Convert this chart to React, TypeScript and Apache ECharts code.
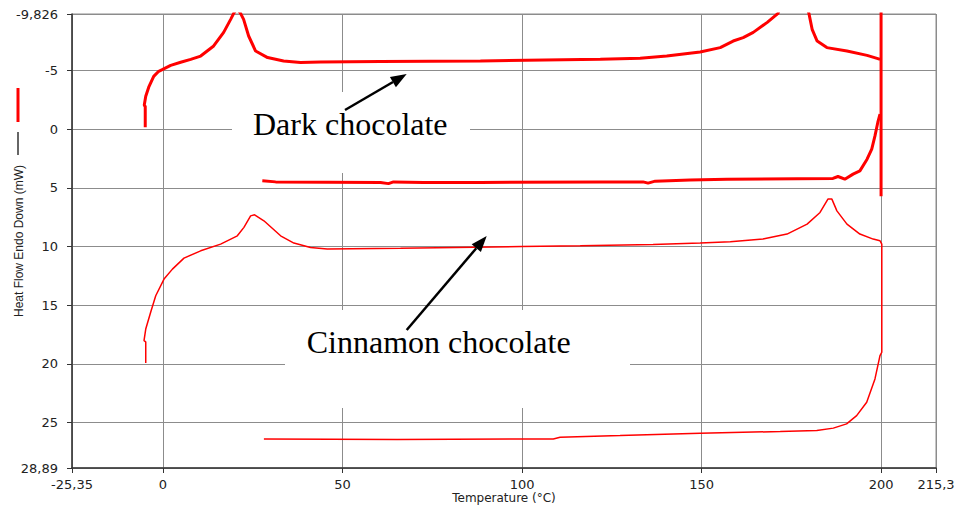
import React, { useEffect, useRef } from "react";
import * as echarts from "echarts";

// Axis ranges and tick positions (values as printed on the chart)
const xMin = -25.35;
const xMax = 215.3;
const yMin = -9.826;
const yMax = 28.89;
const xTicks = [-25.35, 0, 50, 100, 150, 200, 215.3];
const yTicks = [-9.826, -5, 0, 5, 10, 15, 20, 25, 28.89];

// Dark chocolate: heating trace (upper), edge at 200 °C, and lower trace
const darkHeating: number[][] = [
  [-4.95, -0.17], [-4.95, -1.96], [-5.23, -2.04], [-4.81, -2.81], [-3.98, -3.58],
  [-2.59, -4.51], [-1.2, -4.94], [-0.08, -5.11], [2.14, -5.45], [4.92, -5.71],
  [7.71, -5.96], [10.49, -6.24], [14.11, -7.1], [16.89, -8.26], [18.84, -9.37],
  [19.68, -9.88], [20.6, -10.3], [21.6, -9.88], [22.45, -9.37], [23.85, -7.95],
  [25.79, -6.67], [29.13, -6.11], [33.58, -5.82], [38.31, -5.68], [43.88, -5.73],
  [60.57, -5.77], [88.4, -5.82], [121.8, -5.96], [132.9, -6.05], [140.3, -6.24],
  [149.6, -6.58], [155.2, -6.96], [158.8, -7.52], [161.6, -7.81], [164.4, -8.26],
  [168.3, -9.11], [171.3, -9.88], [172, -10.5], [179.3, -10.5], [179.9, -9.88],
  [180.8, -8.52], [182.2, -7.52], [184.9, -6.96], [190.5, -6.67], [196.1, -6.3],
  [199.1, -6.02], [199.7, -5.96],
];
const darkEdge: number[][] = [[200, -11], [200, 5.71]];
const darkLower: number[][] = [
  [27.66, 4.4], [31.36, 4.49], [60.57, 4.54], [62.8, 4.64], [64.19, 4.49],
  [72.5, 4.54], [88.4, 4.54], [121.8, 4.49], [133.7, 4.49], [135.1, 4.6],
  [137.1, 4.43], [146.8, 4.34], [157.1, 4.26], [186.6, 4.2], [188, 4.03],
  [189.9, 4.26], [192.2, 3.83], [194.1, 3.55], [196.1, 2.56], [197.4, 1.7],
  [198.3, 0.57], [199.1, -0.6], [199.7, -1.28],
];

// Cinnamon chocolate: upper trace, edge at 200 °C, lower trace
const cinnamon: number[][] = [
  [-4.81, 19.93], [-4.81, 18.14], [-5.29, 18.03], [-4.81, 17.04], [-3.42, 15.59],
  [-2.03, 14.2], [0.28, 12.78], [2.62, 11.93], [5.84, 10.99], [10.49, 10.37],
  [16.05, 9.8], [20.7, 9.09], [22.54, 8.37], [24.4, 7.39], [25.51, 7.3],
  [28.1, 7.81], [32.75, 9.09], [36.45, 9.71], [41.08, 10.08], [45.74, 10.22],
  [66.14, 10.16], [99.8, 10.0], [116.2, 9.94], [136.5, 9.82], [149.6, 9.71],
  [158, 9.6], [167.1, 9.37], [173.8, 8.94], [179.4, 8.09], [183, 7.1],
  [185.2, 5.96], [186.3, 5.96], [187.7, 6.96], [190.5, 8.09], [194.1, 8.94],
  [197.8, 9.37], [199.7, 9.51], [200.2, 9.8], [200.2, 19.02], [199.7, 19.31],
  [198.3, 21.29], [196, 23.28], [193.2, 24.42], [190.4, 25.13], [186.7, 25.49],
  [182.1, 25.7], [171.9, 25.78], [149.6, 25.92], [127.3, 26.12], [110.6, 26.26],
  [108.7, 26.41], [65.2, 26.46], [28.1, 26.41],
];

const labelFmt = (v: number) => String(v).replace(".", ",");

const GRID_COLOR = "#8c8c8c";
const AXIS_COLOR = "#333333";
const TEXT_COLOR = "#222222";
const LABEL_FONT = "DejaVu Sans";

export default function App() {
  const ref = useRef<HTMLDivElement>(null);
  useEffect(() => {
    if (!ref.current) return;
    const chart = echarts.init(ref.current, undefined, { renderer: "svg" });
    const lineSeries = (name: string, data: number[][], width: number) => ({
      type: "line",
      name,
      data,
      symbol: "none",
      smooth: false,
      clip: true,
      z: 3,
      lineStyle: { color: "#ff0000", width },
    });
    chart.setOption({
      animation: false,
      backgroundColor: "#ffffff",
      grid: {
        left: 72,
        right: 20,
        top: 14,
        bottom: 43,
        show: true,
        borderColor: GRID_COLOR,
        borderWidth: 1,
        containLabel: false,
        outerBoundsMode: "none",
      },
      xAxis: {
        type: "value",
        min: xMin,
        max: xMax,
        name: "Temperature (°C)",
        nameLocation: "middle",
        nameGap: 24,
        nameMoveOverlap: false,
        nameTextStyle: { fontFamily: LABEL_FONT, fontSize: 12, color: TEXT_COLOR },
        axisLine: { show: true, onZero: false, lineStyle: { color: AXIS_COLOR, width: 1.5 } },
        axisTick: { show: true, length: 5, customValues: xTicks, lineStyle: { color: AXIS_COLOR } },
        axisLabel: {
          customValues: xTicks,
          formatter: labelFmt,
          margin: 10,
          fontFamily: LABEL_FONT,
          fontSize: 13,
          color: TEXT_COLOR,
        },
        splitLine: { show: true, lineStyle: { color: GRID_COLOR, width: 1 } },
      },
      yAxis: {
        type: "value",
        inverse: true,
        min: yMin,
        max: yMax,
        name: "Heat Flow Endo Down (mW)",
        nameLocation: "middle",
        nameRotate: 90,
        nameGap: 47,
        nameMoveOverlap: false,
        nameTextStyle: { fontFamily: "Liberation Sans", fontSize: 12, color: TEXT_COLOR },
        axisLine: { show: true, onZero: false, lineStyle: { color: AXIS_COLOR, width: 1.5 } },
        axisTick: { show: true, length: 5, customValues: yTicks, lineStyle: { color: AXIS_COLOR } },
        axisLabel: {
          customValues: yTicks,
          formatter: labelFmt,
          margin: 14,
          fontFamily: LABEL_FONT,
          fontSize: 13,
          color: TEXT_COLOR,
        },
        splitLine: { show: true, lineStyle: { color: GRID_COLOR, width: 1 } },
      },
      series: [
        lineSeries("Dark chocolate", darkHeating, 3),
        lineSeries("Dark chocolate", darkEdge, 3),
        lineSeries("Dark chocolate", darkLower, 3),
        lineSeries("Cinnamon chocolate", cinnamon, 1.5),
      ],
      graphic: [
        // legend-like marks next to the y-axis title
        { type: "line", z: 100, shape: { x1: 18, y1: 88, x2: 18, y2: 122 }, style: { stroke: "#ff0000", lineWidth: 3 } },
        { type: "line", z: 100, shape: { x1: 18, y1: 132, x2: 18, y2: 155 }, style: { stroke: "#333333", lineWidth: 1.5 } },
        // annotation boxes
        { type: "rect", z: 100, shape: { x: 232, y: 92, width: 238, height: 81 }, style: { fill: "#ffffff" } },
        { type: "rect", z: 100, shape: { x: 285, y: 310, width: 345, height: 98 }, style: { fill: "#ffffff" } },
        {
          type: "text", z: 101, x: 253, y: 124,
          style: { text: "Dark chocolate", font: '32px "Liberation Serif"', fill: "#000000", verticalAlign: "middle", align: "left" },
        },
        {
          type: "text", z: 101, x: 306.7, y: 342,
          style: { text: "Cinnamon chocolate", font: '32px "Liberation Serif"', fill: "#000000", verticalAlign: "middle", align: "left" },
        },
        // arrows
        { type: "line", z: 101, shape: { x1: 345, y1: 110, x2: 393, y2: 82 }, style: { stroke: "#000000", lineWidth: 2.5 } },
        { type: "polygon", z: 101, shape: { points: [[406.7, 74], [395.9, 87.3], [389.9, 76.9]] }, style: { fill: "#000000" } },
        { type: "line", z: 101, shape: { x1: 406.7, y1: 330, x2: 476.3, y2: 248.2 }, style: { stroke: "#000000", lineWidth: 2.5 } },
        { type: "polygon", z: 101, shape: { points: [[486.7, 236], [480.9, 252.1], [471.7, 244.3]] }, style: { fill: "#000000" } },
      ],
    });
    return () => chart.dispose();
  }, []);
  return (
    <div
      ref={ref}
      style={{ position: "fixed", left: 0, top: 0, width: 956, height: 511, background: "#fff" }}
    />
  );
}
